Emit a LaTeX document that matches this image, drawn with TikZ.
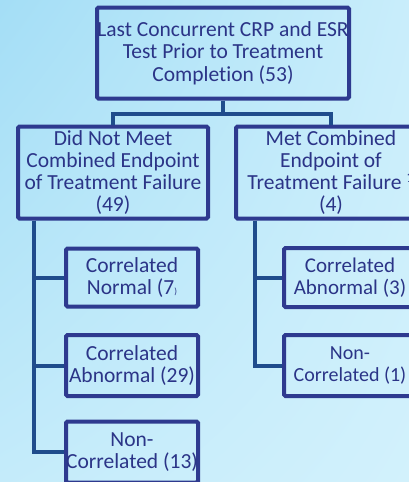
\documentclass[tikz,border=0pt]{standalone}
\usepackage{fontspec}
\setmainfont[Ligatures=NoCommon]{Carlito}
\usetikzlibrary{calc,shadings}
\definecolor{boxblue}{RGB}{46,58,143}
\definecolor{textblue}{RGB}{43,52,135}
\definecolor{linkblue}{RGB}{31,76,140}
\definecolor{bgleft}{RGB}{164,222,246}
\definecolor{bgright}{RGB}{210,241,252}
\begin{document}
\begin{tikzpicture}[
    x=1pt, y=-1pt,
    box/.style={draw=boxblue, line width=4pt, rounded corners=1.5pt,
        align=center, inner sep=0pt, text=textblue,
        font=\fontsize{21.5}{22.3}\selectfont},
    link/.style={draw=linkblue, line width=4pt}]
    % Background and frame
    \useasboundingbox (0,0) rectangle (409,482);
    \clip (0,0) rectangle (409,482);
    \shade[upper left=bgleft, upper right=bgright!80!bgleft,
        lower left=bgright!70!bgleft, lower right=bgright] (0,0) rectangle (409,482);

    % Top level
    \node[box, minimum width=252pt, minimum height=91pt] (last) at (223,53)
        {Last Concurrent CRP and ESR\\Test Prior to Treatment\\Completion (53)};

    % Endpoint groups
    \node[box, minimum width=190pt, minimum height=92pt] (notmet) at (113,172.5)
        {Did Not Meet\\Combined Endpoint\\of Treatment Failure\\(49)};
    \node[box, minimum width=190pt, minimum height=92pt] (met) at (331,172.5)
        {Met Combined\\Endpoint of\\Treatment Failure \textsuperscript{1}\\(4)};

    % Correlation results
    \node[box, minimum width=132pt, minimum height=58pt] (normA) at (132,277.5)
        {Correlated\\Normal (7{\small)}};
    \node[box, minimum width=132pt, minimum height=61pt] (abnA) at (132,365.5)
        {Correlated\\Abnormal (29)};
    \node[box, minimum width=132pt, minimum height=61pt] (nonA) at (132,452)
        {Non-\\Correlated (13)};
    \node[box, minimum width=132pt, minimum height=59pt,
        font=\fontsize{21}{22.3}\selectfont] (abnB) at (350,277.5)
        {Correlated\\Abnormal (3)};
    \node[box, minimum width=132pt, minimum height=61pt,
        font=\fontsize{20}{22.3}\selectfont] (nonB) at (350,365.5)
        {Non-\\Correlated (1)};

    % Tree links
    \coordinate (split) at ($(last.south)+(0,13)$);
    \draw[link] (last.south) -- (split);
    \draw[link] (split) -| (notmet.north);
    \draw[link] (split) -| (met.north);
    \coordinate (trunkA) at ($(notmet.south west)+(18,0)$);
    \coordinate (trunkB) at ($(met.south west)+(21,0)$);
    \draw[link] (trunkA) |- (normA.west);
    \draw[link] (trunkA) |- (abnA.west);
    \draw[link] (trunkA) |- (nonA.west);
    \draw[link] (trunkB) |- (abnB.west);
    \draw[link] (trunkB) |- (nonB.west);
\end{tikzpicture}
\end{document}
